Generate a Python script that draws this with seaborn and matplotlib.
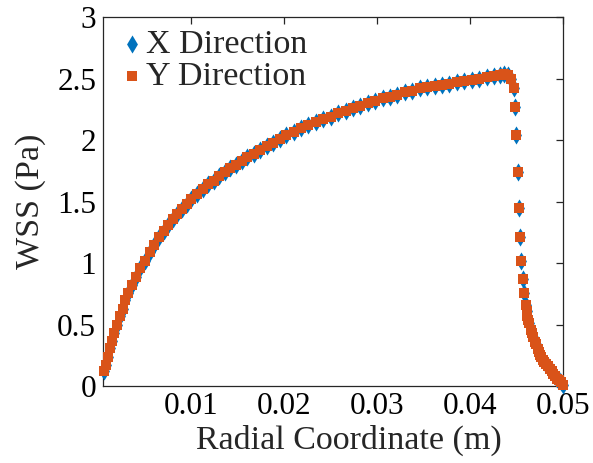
import matplotlib
matplotlib.use("Agg")
import matplotlib.pyplot as plt
import pandas as pd
import seaborn as sns

# radial coordinate (m)
radial_m = [
    0.0006, 0.0008, 0.0010, 0.0012, 0.0014, 0.0017, 0.0020, 0.0023, 0.0026, 0.0029,
    0.0032, 0.0036, 0.0040, 0.0045, 0.0050, 0.0055, 0.0060, 0.0065, 0.0070, 0.0075,
    0.0080, 0.0085, 0.0090, 0.0095, 0.0100, 0.0106, 0.0112, 0.0118, 0.0124, 0.0130,
    0.0136, 0.0142, 0.0148, 0.0154, 0.0160, 0.0167, 0.0174, 0.0181, 0.0188, 0.0195,
    0.0202, 0.0210, 0.0218, 0.0226, 0.0234, 0.0242, 0.0250, 0.0258, 0.0266, 0.0274,
    0.0282, 0.0290, 0.0298, 0.0306, 0.0314, 0.0322, 0.0330, 0.0338, 0.0346, 0.0354,
    0.0362, 0.0370, 0.0378, 0.0386, 0.0394, 0.0402, 0.0410, 0.0418, 0.0426, 0.0432,
    0.0437, 0.0441, 0.0444, 0.0447, 0.0449, 0.0450, 0.0452, 0.0453, 0.0454, 0.0455,
    0.0457, 0.0458, 0.0460, 0.0461, 0.0462, 0.0463, 0.0464, 0.0466, 0.0467, 0.0468,
    0.0470, 0.0471, 0.0473, 0.0474, 0.0476, 0.0477, 0.0479, 0.0480, 0.0482, 0.0484,
    0.0486, 0.0488, 0.0490, 0.0492, 0.0494, 0.0496, 0.0498, 0.0500,
]

# wall shear stress (Pa), X direction
wss_x = [
    0.12, 0.17, 0.24, 0.31, 0.37, 0.43, 0.50, 0.57, 0.63, 0.70,
    0.76, 0.82, 0.89, 0.96, 1.02, 1.09, 1.15, 1.21, 1.26, 1.31,
    1.36, 1.40, 1.44, 1.48, 1.52, 1.56, 1.60, 1.64, 1.67, 1.71,
    1.74, 1.77, 1.80, 1.83, 1.86, 1.89, 1.92, 1.95, 1.98, 2.01,
    2.04, 2.07, 2.10, 2.12, 2.15, 2.17, 2.19, 2.22, 2.24, 2.26,
    2.28, 2.30, 2.32, 2.34, 2.35, 2.37, 2.39, 2.40, 2.42, 2.43,
    2.44, 2.45, 2.46, 2.47, 2.48, 2.49, 2.50, 2.51, 2.52, 2.53,
    2.54, 2.53, 2.50, 2.42, 2.27, 2.04, 1.74, 1.45, 1.21, 1.02,
    0.87, 0.76, 0.66, 0.61, 0.57, 0.54, 0.51, 0.46, 0.43, 0.40,
    0.36, 0.34, 0.30, 0.28, 0.25, 0.24, 0.21, 0.20, 0.18, 0.16,
    0.14, 0.12, 0.10, 0.08, 0.06, 0.05, 0.03, 0.01,
]

# wall shear stress (Pa), Y direction
wss_y = [
    0.12, 0.17, 0.24, 0.31, 0.37, 0.43, 0.50, 0.57, 0.63, 0.70,
    0.76, 0.82, 0.89, 0.96, 1.02, 1.09, 1.15, 1.21, 1.26, 1.31,
    1.36, 1.40, 1.44, 1.48, 1.52, 1.56, 1.60, 1.64, 1.67, 1.71,
    1.74, 1.77, 1.80, 1.83, 1.86, 1.89, 1.92, 1.95, 1.98, 2.01,
    2.04, 2.07, 2.10, 2.12, 2.15, 2.17, 2.19, 2.22, 2.24, 2.26,
    2.28, 2.30, 2.32, 2.34, 2.35, 2.37, 2.39, 2.40, 2.42, 2.43,
    2.44, 2.45, 2.46, 2.47, 2.48, 2.49, 2.50, 2.51, 2.52, 2.53,
    2.54, 2.53, 2.50, 2.42, 2.27, 2.04, 1.74, 1.45, 1.21, 1.02,
    0.87, 0.76, 0.66, 0.61, 0.57, 0.54, 0.51, 0.46, 0.43, 0.40,
    0.36, 0.34, 0.30, 0.28, 0.25, 0.24, 0.21, 0.20, 0.18, 0.16,
    0.14, 0.12, 0.10, 0.08, 0.06, 0.05, 0.03, 0.01,
]

x_ticks = [0.01, 0.02, 0.03, 0.04, 0.05]
y_ticks = [0, 0.5, 1, 1.5, 2, 2.5, 3]

sns.set_theme(style="white")
plt.rcParams["font.family"] = ["Liberation Serif", "DejaVu Serif"]

df = pd.DataFrame({"r": radial_m, "x": wss_x, "y": wss_y})

fig = plt.figure(figsize=(5.93, 4.63), dpi=100)
ax = fig.add_axes([0.174, 0.166, 0.775, 0.797])

sns.scatterplot(data=df, x="r", y="x", ax=ax, marker="d", s=85, color="#0072BD",
                linewidth=0, label="X Direction", clip_on=False, zorder=3)
sns.scatterplot(data=df, x="r", y="y", ax=ax, marker="s", s=52, color="#D95319",
                linewidth=0, label="Y Direction", clip_on=False, zorder=4)

ax.set_xlim(0.0005, 0.05)
ax.set_ylim(0, 3)
ax.set_xticks(x_ticks)
ax.set_yticks(y_ticks)
ax.set_xticklabels([f"{t:g}" for t in x_ticks])
ax.set_yticklabels([f"{t:g}" for t in y_ticks])

for side in ax.spines.values():
    side.set_color("#262626")
    side.set_linewidth(0.9)
ax.tick_params(axis="both", direction="in", length=5, width=0.9, color="#262626",
               labelsize=22.5, labelcolor="black", top=True, right=True)
ax.tick_params(axis="x", pad=4)
ax.tick_params(axis="y", pad=5)

ax.set_xlabel("Radial Coordinate (m)", fontsize=24.5, labelpad=2)
ax.xaxis.set_label_coords(0.534, -0.105)
ax.set_ylabel("WSS (Pa)", fontsize=24.5, labelpad=8)

ax.legend(loc="upper left", frameon=False, fontsize=24.5, handletextpad=-0.1,
          labelspacing=0.05, borderaxespad=0.1, borderpad=0.25, handlelength=1.0,
          markerscale=1.0)

fig.savefig("out.png", dpi=100)
